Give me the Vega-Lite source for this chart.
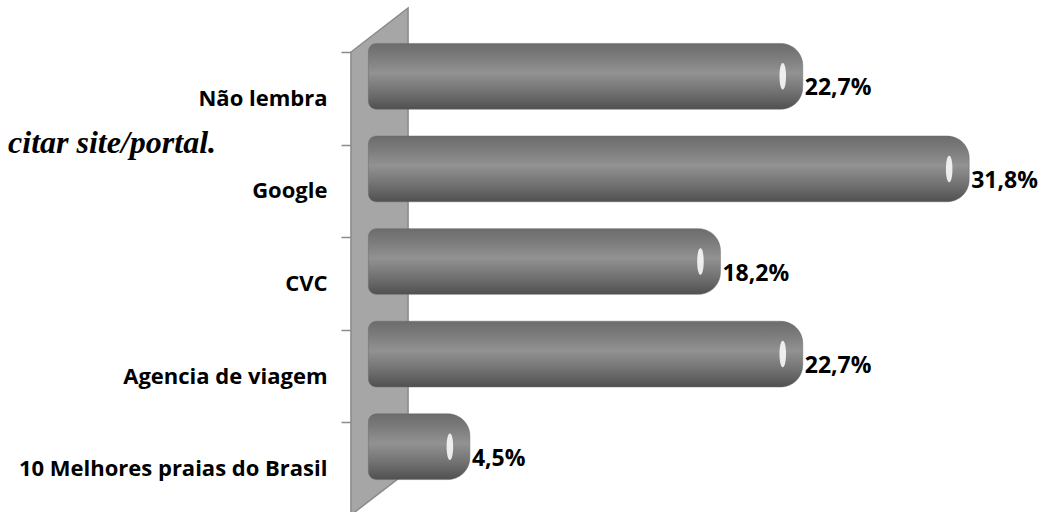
{
  "$schema": "https://vega.github.io/schema/vega-lite/v6.json",
  "width": 695,
  "height": 463,
  "autosize": "none",
  "padding": {"left": 351, "top": 52, "right": 8, "bottom": 0},
  "background": "white",
  "config": {"view": {"stroke": null}},
  "datasets": {
    "answers": [
      {"site": "Não lembra", "pct": 22.7, "label": "22,7%"},
      {"site": "Google", "pct": 31.8, "label": "31,8%"},
      {"site": "CVC", "pct": 18.2, "label": "18,2%"},
      {"site": "Agencia de viagem", "pct": 22.7, "label": "22,7%"},
      {"site": "10 Melhores praias do Brasil", "pct": 4.5, "label": "4,5%"}
    ],
    "wall": [
      {"wx": -2, "lo": 0, "hi": 5},
      {"wx": 1.12, "lo": 0.475, "hi": 5.475}
    ]
  },
  "layer": [
    {
      "data": {"name": "wall"},
      "mark": {"type": "area", "fill": "#a6a6a6", "stroke": "#8a8a8a", "strokeWidth": 1.5, "orient": "vertical"},
      "encoding": {
        "x": {"field": "wx", "type": "quantitative", "scale": {"domain": [-2, 36], "nice": false, "zero": false}, "axis": null},
        "y": {"field": "lo", "type": "quantitative", "scale": {"domain": [0, 5], "nice": false, "zero": false}, "axis": null},
        "y2": {"field": "hi"}
      }
    },
    {
      "data": {"values": [{"note": "citar site/portal."}]},
      "mark": {"type": "text", "align": "left", "baseline": "alphabetic", "font": "Liberation Serif", "fontStyle": "italic", "fontWeight": "bold", "fontSize": 32, "color": "black"},
      "encoding": {
        "text": {"field": "note"},
        "x": {"datum": -20.75, "type": "quantitative", "scale": {"domain": [-2, 36], "nice": false, "zero": false}, "axis": null},
        "y": {"datum": 3.91, "type": "quantitative", "scale": {"domain": [0, 5], "nice": false, "zero": false}, "axis": null}
      }
    },
    {
      "data": {"name": "answers"},
      "mark": {
        "type": "bar",
        "yOffset": -22,
        "height": {"band": 0.71},
        "cornerRadiusTopLeft": 8,
        "cornerRadiusBottomLeft": 8,
        "cornerRadiusTopRight": 22,
        "cornerRadiusBottomRight": 22,
        "stroke": "#6a6a6a",
        "strokeWidth": 0.5,
        "color": {
          "gradient": "linear",
          "x1": 0, "y1": 0, "x2": 0, "y2": 1,
          "stops": [
            {"offset": 0, "color": "#6c6c6c"},
            {"offset": 0.2, "color": "#7b7b7b"},
            {"offset": 0.45, "color": "#929292"},
            {"offset": 0.75, "color": "#707070"},
            {"offset": 1, "color": "#505050"}
          ]
        }
      },
      "encoding": {
        "y": {
          "field": "site", "type": "nominal", "sort": null,
          "scale": {"paddingInner": 0, "paddingOuter": 0},
          "axis": {
            "title": null,
            "tickBand": "extent",
            "domainColor": "#8a8a8a",
            "domainWidth": 1.5,
            "tickColor": "#8a8a8a",
            "tickWidth": 1.5,
            "tickSize": 10,
            "labelPadding": 14,
            "labelFont": "Open Sans",
            "labelFontWeight": "bold",
            "labelFontSize": 22,
            "labelColor": "black",
            "labelLimit": 400
          }
        },
        "x": {"field": "pct", "type": "quantitative", "scale": {"domain": [-2, 36], "nice": false, "zero": false}, "axis": null},
        "x2": {"datum": -1.05}
      }
    },
    {
      "data": {"name": "answers"},
      "mark": {
        "type": "point",
        "filled": true,
        "yOffset": -22,
        "xOffset": -20,
        "size": 700,
        "shape": "M0,-1 C0.33,-1 0.33,1 0,1 C-0.33,1 -0.33,-1 0,-1 Z",
        "color": "white",
        "opacity": 0.85,
        "strokeWidth": 0
      },
      "encoding": {
        "y": {"field": "site", "type": "nominal", "sort": null, "scale": {"paddingInner": 0, "paddingOuter": 0}, "axis": null},
        "x": {"field": "pct", "type": "quantitative", "scale": {"domain": [-2, 36], "nice": false, "zero": false}, "axis": null}
      }
    },
    {
      "data": {"name": "answers"},
      "mark": {"type": "text", "align": "left", "baseline": "middle", "dx": 2, "yOffset": -10, "font": "Open Sans", "fontWeight": "bold", "fontSize": 23, "color": "black"},
      "encoding": {
        "y": {"field": "site", "type": "nominal", "sort": null, "scale": {"paddingInner": 0, "paddingOuter": 0}, "axis": null},
        "x": {"field": "pct", "type": "quantitative", "scale": {"domain": [-2, 36], "nice": false, "zero": false}, "axis": null},
        "text": {"field": "label"}
      }
    }
  ],
  "resolve": {"scale": {"y": "independent"}, "axis": {"y": "independent"}}
}
